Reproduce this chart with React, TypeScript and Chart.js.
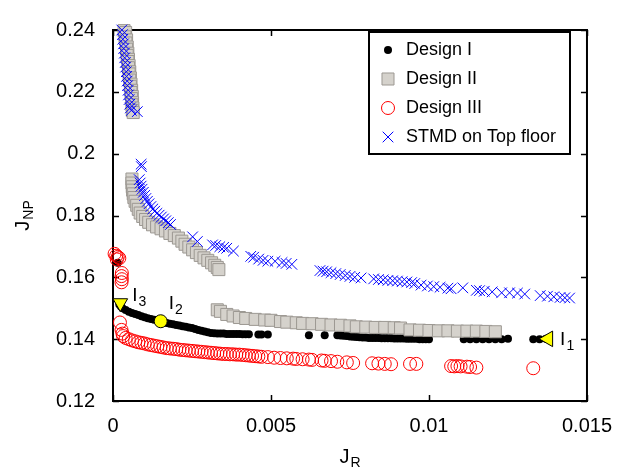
import { useEffect, useRef } from 'react';
import { Chart, registerables } from 'chart.js';
import { drawPoint } from 'chart.js/helpers';

Chart.register(...registerables);

const FONT = '"Liberation Sans", Arial, Helvetica, sans-serif';

const xTicks = [0, 0.005, 0.01, 0.015];
const yTicks = [0.12, 0.14, 0.16, 0.18, 0.2, 0.22, 0.24];

const seriesLabels = ['Design I', 'Design II', 'Design III', 'STMD on Top floor'];

const designI: [number, number][] = [
  [0.00015, 0.1647],
  [0.0002, 0.1512], [0.00025, 0.1506], [0.0003, 0.15], [0.0004, 0.1494], [0.0005, 0.1489],
  [0.0006, 0.1485], [0.0007, 0.1481], [0.0008, 0.1478], [0.0009, 0.1474], [0.001, 0.1471],
  [0.0011, 0.1468], [0.0012, 0.1465], [0.0013, 0.1463], [0.0014, 0.146], [0.0016, 0.1455],
  [0.0017, 0.1452], [0.0018, 0.145], [0.0019, 0.1448], [0.002, 0.1446], [0.0021, 0.1444],
  [0.0022, 0.1442], [0.0023, 0.144], [0.0024, 0.1438], [0.0025, 0.1436], [0.0026, 0.1433],
  [0.0027, 0.143], [0.0028, 0.1427], [0.0029, 0.1425], [0.003, 0.1422], [0.0031, 0.142],
  [0.0032, 0.1419], [0.0033, 0.1418], [0.0034, 0.1418], [0.0035, 0.1418], [0.0036, 0.1417],
  [0.0037, 0.1417], [0.0038, 0.1417], [0.0039, 0.1417], [0.004, 0.1417], [0.0041, 0.1416],
  [0.0042, 0.1416], [0.0043, 0.1416], [0.0046, 0.1415], [0.0047, 0.1415], [0.0049, 0.1415],
  [0.0062, 0.1413], [0.0067, 0.1413], [0.0071, 0.1413], [0.0072, 0.1412], [0.0073, 0.1411],
  [0.0074, 0.141], [0.0075, 0.1409], [0.0076, 0.1408], [0.0077, 0.1407], [0.0078, 0.1406],
  [0.0079, 0.1405], [0.008, 0.1405], [0.0081, 0.1404], [0.0082, 0.1404], [0.0083, 0.1404],
  [0.0084, 0.1404], [0.0085, 0.1403], [0.0086, 0.1403], [0.0087, 0.1403], [0.0088, 0.1403],
  [0.0089, 0.1402], [0.009, 0.1402], [0.0091, 0.1402], [0.0092, 0.1402], [0.0093, 0.1401],
  [0.0094, 0.1401], [0.0095, 0.1401], [0.0096, 0.1401], [0.0097, 0.14], [0.0098, 0.14],
  [0.0099, 0.14], [0.01, 0.14], [0.0111, 0.14], [0.0113, 0.14], [0.0115, 0.14],
  [0.0117, 0.14], [0.0119, 0.14], [0.0121, 0.14], [0.0123, 0.14], [0.0125, 0.1401],
  [0.0133, 0.14], [0.0135, 0.14], [0.0137, 0.1401],
];

const designII: [number, number][] = [
  [0.00035, 0.2398], [0.0004, 0.2392], [0.00038, 0.2378], [0.00043, 0.2368], [0.00041, 0.2358],
  [0.00045, 0.2345], [0.00043, 0.2338], [0.00047, 0.2325], [0.00045, 0.2318], [0.00049, 0.2305],
  [0.00047, 0.2298], [0.00051, 0.2285], [0.00049, 0.2278], [0.00053, 0.2265], [0.00051, 0.2258],
  [0.00055, 0.2245], [0.00053, 0.2238], [0.00057, 0.2225], [0.00055, 0.2218], [0.00059, 0.2205],
  [0.00057, 0.2198], [0.00061, 0.2185], [0.00059, 0.2178], [0.00062, 0.2165], [0.0006, 0.2158],
  [0.00063, 0.2148], [0.00061, 0.214], [0.00064, 0.2133],
  [0.0006, 0.1918], [0.0006, 0.1905], [0.00061, 0.1893], [0.00062, 0.1882], [0.00064, 0.187],
  [0.00066, 0.1858], [0.0007, 0.1846], [0.00075, 0.1833], [0.0008, 0.182], [0.00086, 0.1808],
  [0.00094, 0.1797], [0.00103, 0.1787], [0.00113, 0.1778], [0.00125, 0.177], [0.00138, 0.1763],
  [0.00152, 0.1757], [0.00166, 0.175], [0.0018, 0.1742], [0.00194, 0.1735], [0.00207, 0.1727],
  [0.00218, 0.1717], [0.00228, 0.1707], [0.0024, 0.1698], [0.00252, 0.1689], [0.00264, 0.168],
  [0.00276, 0.1671], [0.00288, 0.1663], [0.003, 0.1655], [0.00312, 0.1647], [0.00322, 0.1639],
  [0.0033, 0.1632], [0.00335, 0.1625],
  [0.0033, 0.1495], [0.0034, 0.149], [0.0036, 0.148], [0.0038, 0.1475], [0.004, 0.147],
  [0.0042, 0.1467], [0.0045, 0.1464], [0.0048, 0.1462], [0.005, 0.1461], [0.0053, 0.1457],
  [0.0055, 0.1455], [0.0058, 0.1453], [0.006, 0.1451], [0.0063, 0.145], [0.0066, 0.1448],
  [0.0069, 0.1446], [0.0072, 0.1445], [0.0075, 0.1443], [0.0077, 0.144], [0.008, 0.1439],
  [0.0083, 0.1438], [0.0086, 0.1438], [0.0089, 0.1437], [0.0091, 0.1436], [0.0094, 0.143],
  [0.0097, 0.1429], [0.01, 0.1428], [0.0103, 0.1427], [0.0106, 0.1427], [0.0109, 0.1426],
  [0.0112, 0.1426], [0.0115, 0.1426], [0.0118, 0.1425], [0.0121, 0.1424],
];

const designIII: [number, number][] = [
  [0.00005, 0.1676], [0.0001, 0.167], [0.00015, 0.1666], [0.0002, 0.1662], [0.00012, 0.1658],
  [0.00028, 0.1614], [0.00027, 0.1604], [0.00028, 0.1594], [0.00027, 0.1584],
  [0.00022, 0.1454], [0.00027, 0.143], [0.0003, 0.1418], [0.00032, 0.141],
  [0.0004, 0.1404], [0.0005, 0.14], [0.0006, 0.1396], [0.0007, 0.1393], [0.0008, 0.139],
  [0.0009, 0.1388], [0.001, 0.1386], [0.0011, 0.1383], [0.0012, 0.1381], [0.0013, 0.1379],
  [0.0014, 0.1377], [0.0015, 0.1375], [0.0016, 0.1373], [0.0017, 0.1371], [0.0018, 0.137],
  [0.0019, 0.1369], [0.002, 0.1368], [0.0021, 0.1366], [0.0022, 0.1365], [0.0023, 0.1364],
  [0.0024, 0.1363], [0.0025, 0.1362], [0.0026, 0.1361], [0.0027, 0.136], [0.0028, 0.1359],
  [0.0029, 0.1358], [0.003, 0.1357], [0.0031, 0.1356], [0.0032, 0.1355], [0.0033, 0.1354],
  [0.0034, 0.1353], [0.0035, 0.1352], [0.0036, 0.1352], [0.0037, 0.1351], [0.0038, 0.1351],
  [0.0039, 0.135], [0.004, 0.135], [0.0041, 0.1349], [0.0042, 0.1348], [0.0043, 0.1347],
  [0.0044, 0.1346], [0.0045, 0.1345], [0.0046, 0.1344], [0.0047, 0.1343], [0.0049, 0.1342],
  [0.0051, 0.134], [0.0053, 0.1339], [0.0055, 0.1338], [0.0057, 0.1337], [0.0058, 0.1336],
  [0.006, 0.1335], [0.0062, 0.1334], [0.0063, 0.1333], [0.0066, 0.1331], [0.0067, 0.133],
  [0.0069, 0.1329], [0.0071, 0.1327], [0.0074, 0.1325], [0.0076, 0.1323], [0.0082, 0.1322],
  [0.0084, 0.1321], [0.0086, 0.132], [0.0088, 0.1319], [0.0094, 0.132], [0.0096, 0.132],
  [0.0107, 0.1313], [0.0108, 0.1312], [0.0109, 0.1313], [0.011, 0.1312], [0.0112, 0.1311],
  [0.0113, 0.131], [0.0115, 0.1308], [0.0133, 0.1306],
];

const stmdTop: [number, number][] = [
  [0.00028, 0.24], [0.0003, 0.2385], [0.00031, 0.237], [0.00033, 0.2355], [0.00034, 0.234],
  [0.00036, 0.2325], [0.00037, 0.231], [0.00039, 0.2295], [0.0004, 0.228], [0.00042, 0.2265],
  [0.00043, 0.225], [0.00045, 0.2235], [0.00046, 0.222], [0.00048, 0.2205], [0.00049, 0.219],
  [0.00051, 0.2175], [0.00053, 0.216], [0.00055, 0.2148], [0.00058, 0.214], [0.00077, 0.2136],
  [0.00089, 0.1966], [0.0009, 0.1958], [0.00083, 0.1916], [0.00086, 0.1905], [0.00089, 0.1895],
  [0.00092, 0.1885], [0.00096, 0.1875], [0.001, 0.1865], [0.00104, 0.1855], [0.00109, 0.1846],
  [0.00114, 0.1838], [0.0012, 0.1829], [0.00126, 0.1821], [0.00132, 0.1814], [0.00139, 0.1807],
  [0.00146, 0.1801], [0.00153, 0.1795], [0.0016, 0.1789], [0.00167, 0.1783], [0.00175, 0.1777],
  [0.00182, 0.1771],
  [0.00252, 0.1731], [0.00267, 0.1716], [0.00315, 0.1705], [0.00325, 0.1703], [0.00338, 0.1699],
  [0.0035, 0.1697], [0.0036, 0.1694], [0.00381, 0.1685], [0.00436, 0.1668], [0.00445, 0.1665],
  [0.00461, 0.1659], [0.00475, 0.1655], [0.0049, 0.1652], [0.00513, 0.1652], [0.00535, 0.1648],
  [0.00548, 0.1645], [0.00566, 0.1642],
  [0.00655, 0.1622], [0.00665, 0.162], [0.00676, 0.1618], [0.0069, 0.1615], [0.00705, 0.1612],
  [0.00719, 0.1609], [0.00735, 0.1606], [0.0075, 0.1603], [0.00765, 0.16], [0.00785, 0.1598],
  [0.00825, 0.1595], [0.0084, 0.1593], [0.00855, 0.1592], [0.0087, 0.159], [0.00885, 0.1589],
  [0.009, 0.1588], [0.00915, 0.1586], [0.0093, 0.1585], [0.00945, 0.1583], [0.00955, 0.158],
  [0.00975, 0.1575], [0.00995, 0.1572], [0.01015, 0.157], [0.01035, 0.1568], [0.0106, 0.1565],
  [0.0107, 0.1563], [0.01107, 0.1566], [0.0115, 0.1558], [0.0116, 0.1557], [0.01175, 0.1555],
  [0.012, 0.1553], [0.0123, 0.155], [0.01255, 0.155], [0.0128, 0.1549], [0.01303, 0.1546],
  [0.01352, 0.1541], [0.01375, 0.1539], [0.01395, 0.1537], [0.01415, 0.1535], [0.0143, 0.1534],
  [0.01445, 0.1533],
];

const pointI1: [number, number] = [0.01377, 0.1401];
const pointI2: [number, number] = [0.00151, 0.1458];
const pointI3: [number, number] = [0.00023, 0.1517];
const pointLabels = ['1', '2', '3'];

const toXY = (arr: [number, number][]) => arr.map(([x, y]) => ({ x, y }));
const fmt = (v: number) => String(parseFloat(Number(v).toFixed(4)));

function drawSubText(ctx: CanvasRenderingContext2D, x: number, y: number, main: string, sub: string, mainSize: number, subSize: number, drop: number) {
  ctx.font = `${mainSize}px ${FONT}`;
  ctx.fillText(main, x, y);
  const w = ctx.measureText(main).width;
  ctx.font = `${subSize}px ${FONT}`;
  ctx.fillText(sub, x + w + 1, y + drop);
}

const framePlugin = {
  id: 'frame',
  beforeDatasetsDraw(chart: any) {
    const { ctx, chartArea: a, scales } = chart;
    ctx.save();
    ctx.strokeStyle = '#000';
    ctx.lineWidth = 2;
    ctx.strokeRect(a.left, a.top, a.right - a.left, a.bottom - a.top);
    ctx.lineWidth = 1.5;
    const tl = 6;
    ctx.beginPath();
    xTicks.forEach((v) => {
      const px = Math.round(scales.x.getPixelForValue(v)) + 0.5;
      ctx.moveTo(px, a.bottom); ctx.lineTo(px, a.bottom - tl);
      ctx.moveTo(px, a.top); ctx.lineTo(px, a.top + tl);
    });
    yTicks.forEach((v) => {
      const py = Math.round(scales.y.getPixelForValue(v)) + 0.5;
      ctx.moveTo(a.left, py); ctx.lineTo(a.left + tl, py);
      ctx.moveTo(a.right, py); ctx.lineTo(a.right - tl, py);
    });
    ctx.stroke();
    ctx.restore();
  },
};

const textPlugin = {
  id: 'texts',
  afterDraw(chart: any) {
    const { ctx, chartArea: a, scales } = chart;
    ctx.save();
    ctx.fillStyle = '#000';
    ctx.textAlign = 'left';
    ctx.textBaseline = 'alphabetic';

    // annotation labels
    const pts = [pointI1, pointI2, pointI3];
    const offs = [[12, 6], [8, -12], [12, -2]];
    pts.forEach((p, i) => {
      const px = scales.x.getPixelForValue(p[0]);
      const py = scales.y.getPixelForValue(p[1]);
      drawSubText(ctx, px + offs[i][0], py + offs[i][1], 'I', pointLabels[i], 19, 14, 5);
    });

    // x title
    ctx.font = `20px ${FONT}`;
    const wJ = ctx.measureText('J').width;
    ctx.font = `14px ${FONT}`;
    const wR = ctx.measureText('R').width;
    const cx = (a.left + a.right) / 2;
    drawSubText(ctx, cx - (wJ + 1 + wR) / 2, 463, 'J', 'R', 20, 14, 4);

    // y title
    const wNP = ctx.measureText('NP').width;
    ctx.save();
    ctx.translate(29, (a.top + a.bottom) / 2);
    ctx.rotate(-Math.PI / 2);
    drawSubText(ctx, -(wJ + 1 + wNP) / 2, 0, 'J', 'NP', 20, 14, 4);
    ctx.restore();

    // legend
    const box = { l: 369, t: 32, r: 570, b: 154 };
    ctx.fillStyle = '#fff';
    ctx.fillRect(box.l, box.t, box.r - box.l, box.b - box.t);
    ctx.lineWidth = 2;
    ctx.strokeStyle = '#000';
    ctx.strokeRect(box.l, box.t, box.r - box.l, box.b - box.t);
    const rows = [50, 79, 108, 137];
    seriesLabels.forEach((label, i) => {
      const ds = chart.data.datasets[i];
      ctx.save();
      ctx.fillStyle = ds.backgroundColor;
      ctx.strokeStyle = ds.borderColor;
      ctx.lineWidth = ds.borderWidth;
      drawPoint(ctx, { pointStyle: ds.pointStyle, radius: ds.pointRadius, rotation: ds.pointRotation || 0, borderWidth: ds.borderWidth } as any, 388, rows[i]);
      ctx.restore();
      ctx.fillStyle = '#000';
      ctx.font = `18px ${FONT}`;
      ctx.textBaseline = 'middle';
      ctx.fillText(label, 406, rows[i]);
    });
    ctx.restore();
  },
};

export default function App() {
  const ref = useRef<HTMLCanvasElement>(null);
  useEffect(() => {
    document.body.style.margin = '0';
    const canvas = ref.current;
    if (!canvas) return;
    const chart = new Chart(canvas, {
      type: 'scatter',
      data: {
        datasets: [
          {
            label: seriesLabels[0], data: toXY(designI), pointStyle: 'circle', pointRadius: 4,
            backgroundColor: '#000', borderColor: '#000', borderWidth: 0, order: 3, clip: false,
          },
          {
            label: seriesLabels[1], data: toXY(designII), pointStyle: 'rect', pointRadius: 8.5,
            backgroundColor: '#d5d2cc', borderColor: '#9c9892', borderWidth: 1, order: 2, clip: false,
          },
          {
            label: seriesLabels[2], data: toXY(designIII), pointStyle: 'circle', pointRadius: 6.5,
            backgroundColor: 'rgba(0,0,0,0)', borderColor: '#ff0000', borderWidth: 1, order: 1, clip: false,
          },
          {
            label: seriesLabels[3], data: toXY(stmdTop), pointStyle: 'crossRot', pointRadius: 7.5,
            backgroundColor: '#0000ff', borderColor: '#0000ff', borderWidth: 1, order: 0, clip: false,
          },
          {
            label: 'I1', data: toXY([pointI1]), pointStyle: 'triangle', pointRotation: -90, pointRadius: 9,
            backgroundColor: '#ffff00', borderColor: '#000', borderWidth: 1, order: -1, clip: false,
          },
          {
            label: 'I2', data: toXY([pointI2]), pointStyle: 'circle', pointRadius: 6.5,
            backgroundColor: '#ffff00', borderColor: '#000', borderWidth: 1, order: -1, clip: false,
          },
          {
            label: 'I3', data: toXY([pointI3]), pointStyle: 'triangle', pointRotation: 180, pointRadius: 8.5,
            backgroundColor: '#ffff00', borderColor: '#000', borderWidth: 1, order: -1, clip: false,
          },
        ] as any,
      },
      options: {
        responsive: false,
        animation: false,
        events: [],
        layout: { padding: { top: 19, right: 24, left: 0, bottom: 0 } },
        plugins: { legend: { display: false }, tooltip: { enabled: false } },
        scales: {
          x: {
            type: 'linear', min: 0, max: 0.015,
            afterBuildTicks: (s: any) => { s.ticks = xTicks.map((value) => ({ value })); },
            afterFit: (s: any) => { s.height = 69; },
            grid: { display: false, drawTicks: false },
            border: { display: false },
            ticks: { callback: (v: any) => fmt(v), color: '#000', font: { size: 20, family: FONT }, padding: 13, maxRotation: 0 },
          },
          y: {
            type: 'linear', min: 0.12, max: 0.24,
            afterBuildTicks: (s: any) => { s.ticks = yTicks.map((value) => ({ value })); },
            afterFit: (s: any) => { s.width = 113; },
            grid: { display: false, drawTicks: false },
            border: { display: false },
            ticks: { callback: (v: any) => fmt(v), color: '#000', font: { size: 20, family: FONT }, padding: 18 },
          },
        },
      },
      plugins: [framePlugin, textPlugin],
    });
    return () => chart.destroy();
  }, []);
  return (
    <div style={{ width: 625, height: 470 }}>
      <canvas ref={ref} width={625} height={470} />
    </div>
  );
}
